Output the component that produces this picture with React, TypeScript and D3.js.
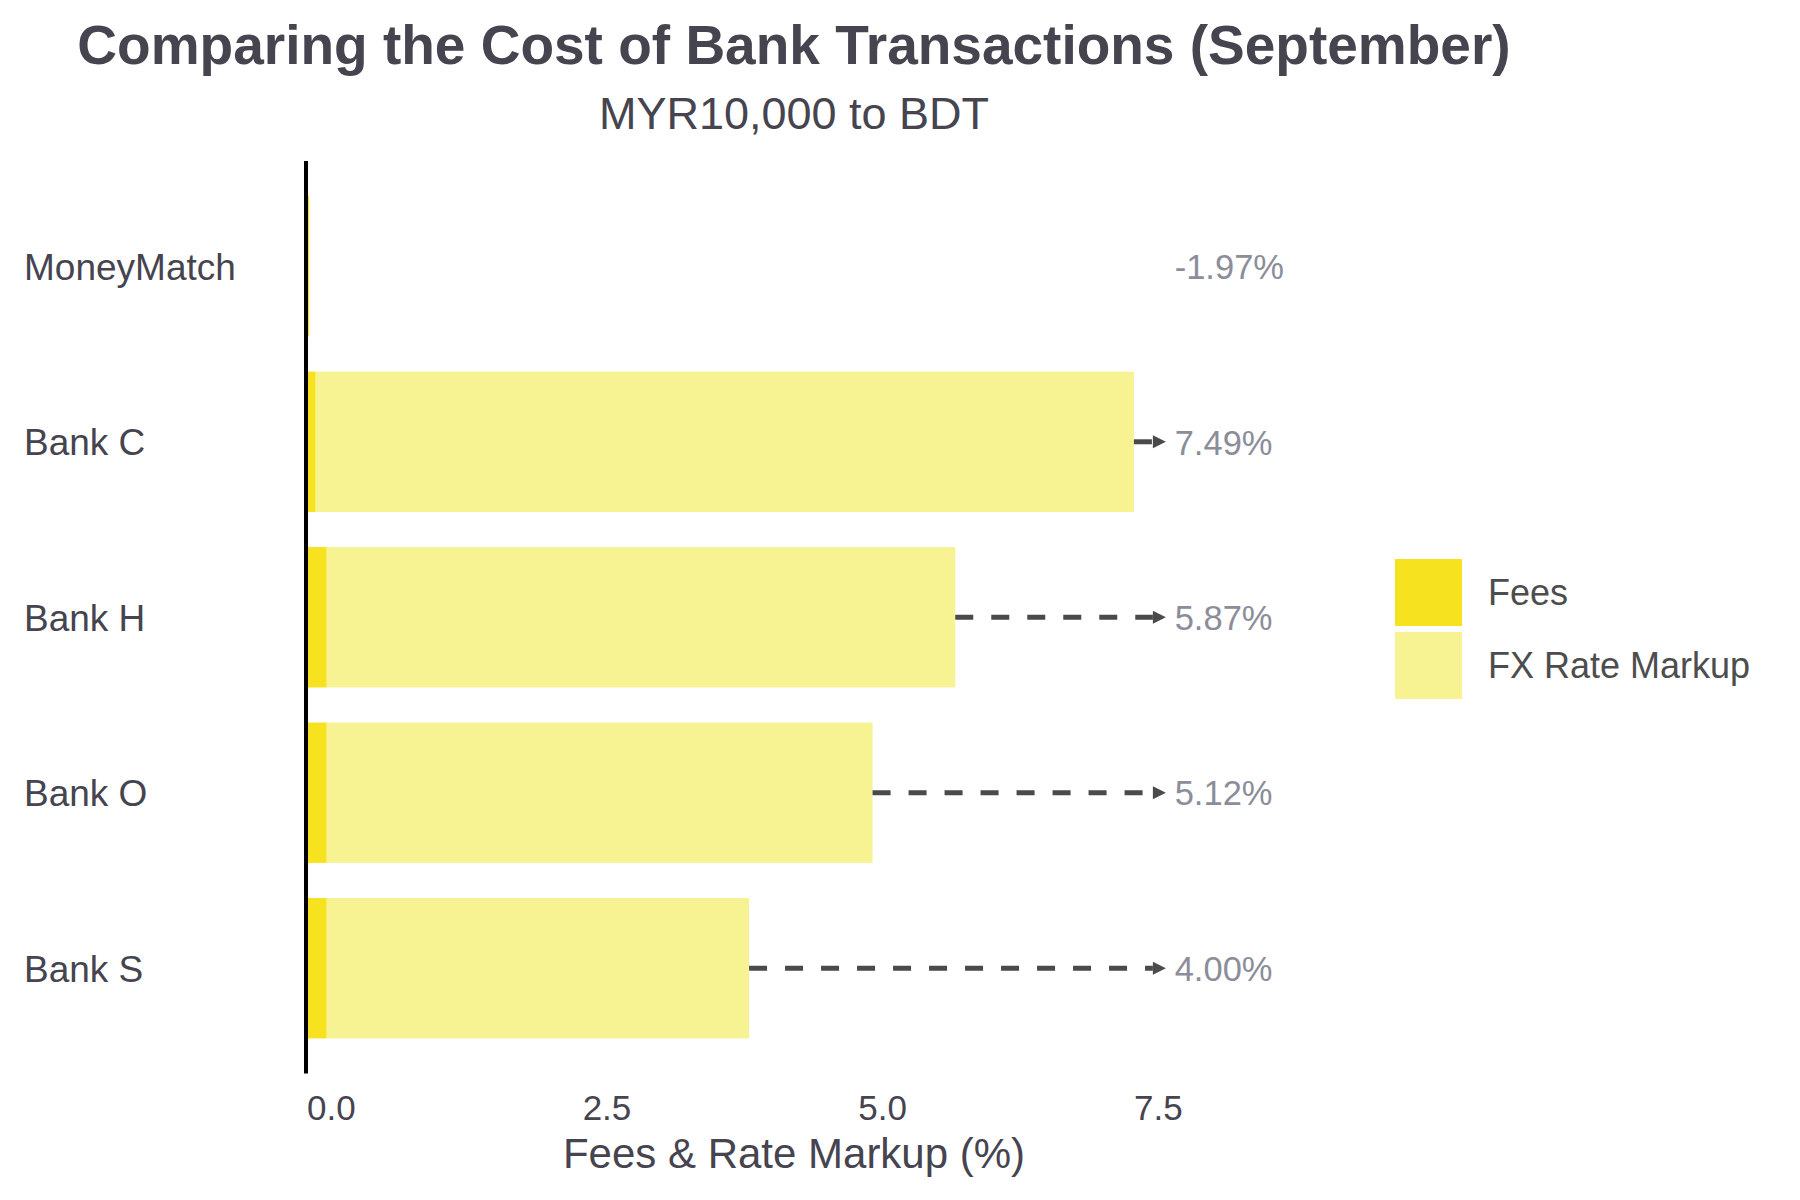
import React from 'react'
import * as d3 from 'd3'

const categories = ['MoneyMatch', 'Bank C', 'Bank H', 'Bank O', 'Bank S']
const fees = [0.01, 0.07, 0.17, 0.17, 0.17]
const fxMarkup = [-1.98, 7.42, 5.7, 4.95, 3.83]
const xTicks = [0, 2.5, 5, 7.5]
const legendLabels = ['Fees', 'FX Rate Markup']

const arrowEnd = 7.78
const labelAt = 7.86

const FONT = '"Liberation Sans", Arial, Helvetica, sans-serif'
const FEE_COLOR = '#f6e21e'
const FX_COLOR = '#f7f392'
const TEXT = '#45444f'

const App: React.FC = () => {
  const width = 1800
  const height = 1200

  const x = d3.scaleLinear().domain([0, 7.5]).range([308, 1135])
  const y = d3
    .scaleBand<string>()
    .domain(categories)
    .range([161, 1073.5])
    .paddingInner(0.2)
    .paddingOuter(0.2)

  const bw = y.bandwidth()
  const fmt = d3.format('.1f')
  const head = 13

  return (
    <>
      <style>{'body{margin:0}'}</style>
      <svg width={width} height={height} style={{ display: 'block', background: '#fff' }}>
        <text x={794} y={64} textAnchor="middle" fontFamily={FONT} fontWeight="bold" fontSize={55} fill={TEXT}>
          Comparing the Cost of Bank Transactions (September)
        </text>
        <text x={794} y={129} textAnchor="middle" fontFamily={FONT} fontSize={45} fill={TEXT}>
          MYR10,000 to BDT
        </text>

        {categories.map((c, i) => {
          const y0 = y(c) as number
          const mid = y0 + bw / 2
          const total = fees[i] + fxMarkup[i]
          const barEnd = x(fees[i] + Math.max(0, fxMarkup[i]))
          return (
            <g key={c}>
              <text x={24} y={mid} dy="0.365em" fontFamily={FONT} fontSize={37} fill={TEXT}>
                {c}
              </text>
              <rect x={x(0)} y={y0} width={x(fees[i]) - x(0)} height={bw} fill={FEE_COLOR} />
              {fxMarkup[i] > 0 && (
                <rect
                  x={x(fees[i])}
                  y={y0}
                  width={x(fees[i] + fxMarkup[i]) - x(fees[i])}
                  height={bw}
                  fill={FX_COLOR}
                />
              )}
              {total > 0 && (
                <g>
                  <line
                    x1={barEnd}
                    x2={x(arrowEnd) - head}
                    y1={mid}
                    y2={mid}
                    stroke="#4a4a4a"
                    strokeWidth={5}
                    strokeDasharray="18 18"
                  />
                  <path
                    d={`M${x(arrowEnd) - head},${mid - 6.5}L${x(arrowEnd)},${mid}L${x(arrowEnd) - head},${mid + 6.5}Z`}
                    fill="#4a4a4a"
                  />
                </g>
              )}
              <text x={x(labelAt)} y={mid} dy="0.37em" fontFamily={FONT} fontSize={34.5} fill="#8b8e9a">
                {total.toFixed(2) + '%'}
              </text>
            </g>
          )
        })}

        <line x1={306} x2={306} y1={161} y2={1073.5} stroke="#000" strokeWidth={4} />

        {xTicks.map((t) => (
          <text key={t} x={x(t) - 1} y={1120} fontFamily={FONT} fontSize={35} fill={TEXT}>
            {fmt(t)}
          </text>
        ))}
        <text x={794} y={1168} textAnchor="middle" fontFamily={FONT} fontSize={42} fill={TEXT}>
          Fees &amp; Rate Markup (%)
        </text>

        {legendLabels.map((l, i) => (
          <g key={l} transform={`translate(1395, ${559 + i * 73})`}>
            <rect width={67} height={67} fill={i === 0 ? FEE_COLOR : FX_COLOR} />
            <text x={93} y={33.5} dy="0.36em" fontFamily={FONT} fontSize={36} fill="#4d4d4d">
              {l}
            </text>
          </g>
        ))}
      </svg>
    </>
  )
}

export default App
